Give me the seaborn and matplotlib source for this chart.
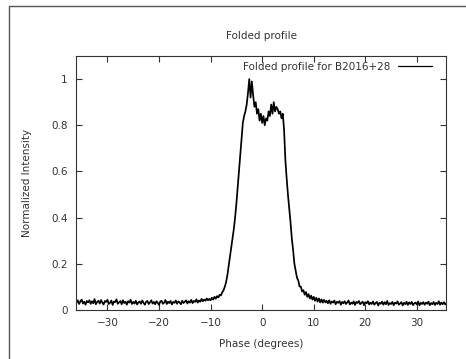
import numpy as np
import matplotlib
matplotlib.use('Agg')
import matplotlib.pyplot as plt
from matplotlib.lines import Line2D
from matplotlib.ticker import FormatStrFormatter
import seaborn as sns

# folded profile, sampled every 0.25 degrees starting at -36
phase_start = -36.0
phase_step = 0.25

baseline_left = [
    0.031, 0.042, 0.026, 0.037, 0.045, 0.028, 0.036, 0.023, 0.039, 0.033,
    0.042, 0.027, 0.038, 0.029, 0.047, 0.025, 0.035, 0.040, 0.028, 0.043,
    0.032, 0.024, 0.039, 0.035, 0.044, 0.026, 0.031, 0.041, 0.022, 0.037,
    0.034, 0.046, 0.027, 0.033, 0.039, 0.025, 0.042, 0.030, 0.036, 0.023,
    0.038, 0.032, 0.044, 0.026, 0.035, 0.028, 0.040, 0.024, 0.033, 0.037,
    0.027, 0.041, 0.031, 0.023, 0.036, 0.039, 0.026, 0.033, 0.042, 0.028,
    0.035, 0.025, 0.038, 0.031, 0.022, 0.037, 0.040, 0.027, 0.032, 0.043,
    0.026, 0.036, 0.030, 0.039, 0.024, 0.035, 0.031, 0.041, 0.027, 0.037,
    0.033, 0.025, 0.040, 0.030, 0.036, 0.042, 0.028, 0.038, 0.032, 0.044,
    0.030, 0.039, 0.035, 0.046, 0.032, 0.041, 0.036, 0.048, 0.038, 0.045,
    0.040, 0.050, 0.042, 0.048,
]
rise = [
    0.042, 0.053, 0.045, 0.057, 0.049, 0.060, 0.054, 0.066, 0.063, 0.076,
    0.085, 0.100, 0.120, 0.150, 0.190, 0.230, 0.270, 0.310, 0.350, 0.400,
    0.460, 0.530, 0.600, 0.670, 0.740, 0.810,
]
peak = [
    0.84, 0.86, 0.89, 0.94, 1.00, 0.92, 0.99, 0.93, 0.88, 0.90,
    0.85, 0.87, 0.82, 0.85, 0.81, 0.84, 0.80, 0.83, 0.82, 0.86,
    0.84, 0.89, 0.85, 0.90, 0.86, 0.88, 0.87, 0.85, 0.86, 0.83,
    0.85, 0.78,
]
fall = [
    0.65, 0.57, 0.50, 0.44, 0.38, 0.31, 0.26, 0.20, 0.17, 0.14,
    0.128, 0.102, 0.101, 0.080, 0.086, 0.066, 0.078, 0.057, 0.069, 0.050,
    0.062, 0.045, 0.057, 0.040, 0.053, 0.036, 0.050, 0.033, 0.046, 0.032,
    0.044,
]
baseline_right = [
    0.033, 0.040, 0.029, 0.042, 0.027, 0.037, 0.032, 0.041, 0.025, 0.036,
    0.031, 0.039, 0.023, 0.035, 0.029, 0.038, 0.026, 0.033, 0.041, 0.024,
    0.032, 0.027, 0.037, 0.022, 0.035, 0.030, 0.039, 0.025, 0.031, 0.036,
    0.021, 0.034, 0.029, 0.038, 0.024, 0.032, 0.026, 0.037, 0.023, 0.030,
    0.035, 0.020, 0.031, 0.027, 0.036, 0.023, 0.034, 0.025, 0.039, 0.022,
    0.030, 0.026, 0.035, 0.021, 0.032, 0.028, 0.037, 0.023, 0.028, 0.034,
    0.020, 0.031, 0.025, 0.036, 0.022, 0.033, 0.026, 0.035, 0.021, 0.029,
    0.032, 0.024, 0.037, 0.020, 0.031, 0.026, 0.034, 0.023, 0.032, 0.027,
    0.036, 0.021, 0.030, 0.025, 0.035, 0.022, 0.031, 0.026, 0.038, 0.023,
    0.032, 0.025, 0.034, 0.024, 0.030,
]

intensity = np.array(baseline_left + rise + peak + fall + baseline_right)
phase = phase_start + phase_step * np.arange(len(intensity))

x_ticks = [-30, -20, -10, 0, 10, 20, 30]
y_ticks = [0, 0.2, 0.4, 0.6, 0.8, 1.0]

sns.set_style('ticks')
plt.rcParams['font.family'] = ['DejaVu Sans']
txt = '#333333'
fs = 7.5

fig = plt.figure(figsize=(4.66, 3.59), dpi=100)
ax = fig.add_axes([76 / 466, 49 / 359, 370 / 466, 254 / 359])

sns.lineplot(x=phase, y=intensity, color='black', linewidth=1.25,
             label='Folded profile for B2016+28', ax=ax)

ax.set_xlim(-36.1, 35.65)
ax.set_ylim(0, 1.1)
ax.set_xticks(x_ticks)
ax.set_yticks(y_ticks)
ax.yaxis.set_major_formatter(FormatStrFormatter('%g'))
ax.tick_params(direction='in', length=4, width=0.8, top=True, right=True,
               labelsize=fs, labelcolor=txt, color='#333333', pad=6)
for s in ax.spines.values():
    s.set_color('#333333')
    s.set_linewidth(0.8)

ax.set_title('Folded profile', fontsize=fs, color=txt, pad=12)
ax.set_xlabel('Phase (degrees)', fontsize=fs, color=txt, labelpad=8)
ax.set_ylabel('Normalized Intensity', fontsize=fs, color=txt, labelpad=14)

leg = ax.legend(loc='upper right', bbox_to_anchor=((432 - 76) / 370, (310 - 62) / 254),
                frameon=False, markerfirst=False, fontsize=fs, labelcolor=txt,
                handlelength=3.3, handletextpad=0.7, borderpad=0, borderaxespad=0)
for h in leg.get_lines():
    h.set_linewidth(0.9)

# outer frame like the gnuplot canvas border
fig.add_artist(Line2D([9 / 466, 9 / 466, 1.0], [0.0, 1 - 6 / 359, 1 - 6 / 359],
                      transform=fig.transFigure, color='#555555', linewidth=1.0))

fig.savefig('out.png', dpi=100)
